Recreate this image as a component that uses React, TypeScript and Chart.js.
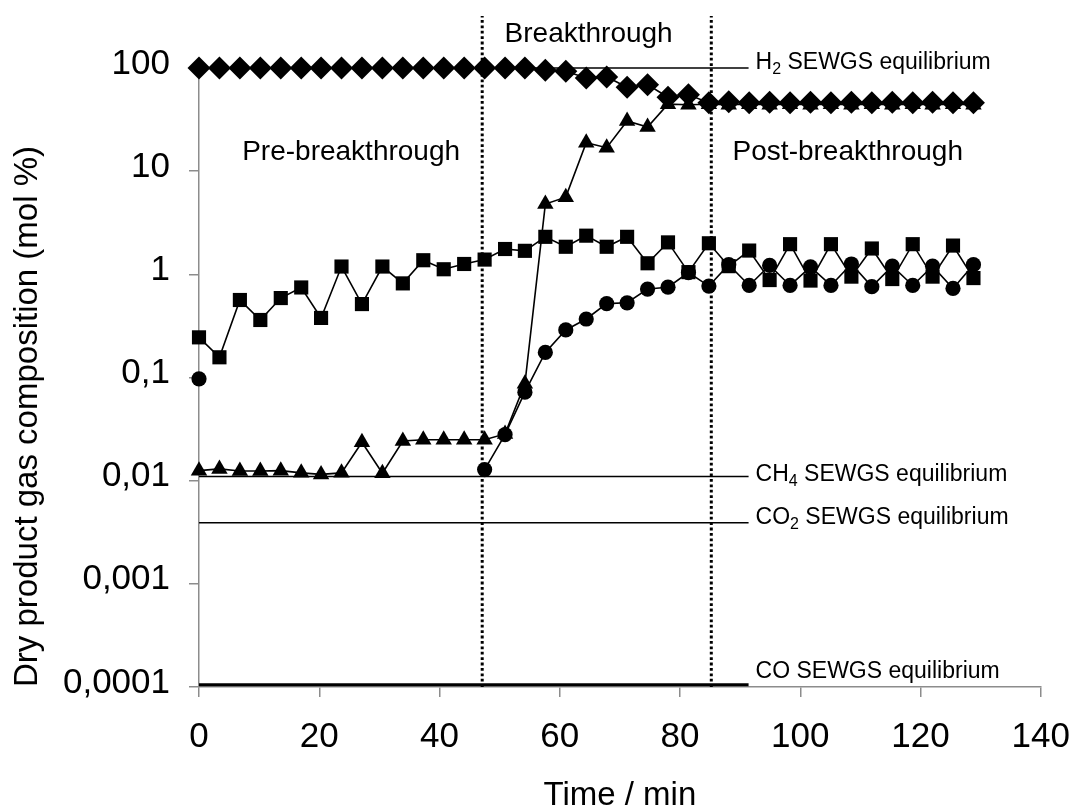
import { useEffect, useRef } from "react";
import { Chart, registerables } from "chart.js";

Chart.register(...registerables);

// ---------- data ----------
const TIME_MIN = [0, 3.4, 6.8, 10.2, 13.6, 17.0, 20.3, 23.7, 27.1, 30.5, 33.9, 37.3, 40.7, 44.1, 47.5, 50.9, 54.2, 57.6, 61.0, 64.4, 67.8, 71.2, 74.6, 78.0, 81.4, 84.8, 88.1, 91.5, 94.9, 98.3, 101.7, 105.1, 108.5, 111.9, 115.3, 118.7, 122.0, 125.4, 128.8];

const H2_PCT = [100, 100, 100, 100, 100, 100, 100, 100, 100, 100, 100, 100, 100, 100, 100, 100, 100, 95, 93, 80, 82, 65, 69, 52, 55, 46, 47, 46, 46.5, 46, 46.5, 46, 46.5, 46, 46.5, 46, 46.5, 46, 46];

const CO_PCT: (number | null)[] = [0.097, null, null, null, null, null, null, null, null, null, null, null, null, null, 0.0128, 0.028, 0.072, 0.175, 0.289, 0.369, 0.52, 0.53, 0.72, 0.75, 1.04, 0.77, 1.24, 0.78, 1.22, 0.78, 1.18, 0.78, 1.26, 0.76, 1.2, 0.78, 1.2, 0.73, 1.24];

const CO2_PCT = [0.0125, 0.013, 0.0124, 0.0124, 0.0125, 0.0119, 0.0115, 0.0119, 0.0236, 0.0118, 0.0242, 0.0249, 0.0249, 0.0249, 0.0249, 0.0284, 0.087, 4.8, 5.6, 18.9, 16.9, 30.7, 26.8, 44.6, 44, 44.5, 44, 44.5, 44, 44.5, 44, 44.5, 44, 44.5, 44, 44.5, 44, 44.5, 44];

const CH4_PCT = [0.245, 0.157, 0.564, 0.361, 0.589, 0.746, 0.378, 1.19, 0.515, 1.19, 0.817, 1.37, 1.12, 1.26, 1.39, 1.76, 1.69, 2.31, 1.85, 2.37, 1.85, 2.31, 1.28, 2.04, 1.05, 2.0, 1.2, 1.7, 0.88, 1.96, 0.87, 1.96, 0.95, 1.78, 0.9, 1.96, 0.95, 1.9, 0.92];

// SEWGS equilibrium levels (mol %), drawn from t = 0 to EQ_END_MIN
const EQ_SPECIES = ["H2", "CH4", "CO2", "CO"];
const EQ_VALUES = [100, 0.011, 0.0039, 0.000105];
const EQ_END_MIN = 91.4;

// breakthrough window limits (min)
const PHASE_LIMITS_MIN = [47.1, 85.2];
const PHASE_LINE_TOP = 320;

const X_TICKS = [0, 20, 40, 60, 80, 100, 120, 140];
const Y_TICKS = [0.0001, 0.001, 0.01, 0.1, 1, 10, 100];

const X_TITLE = "Time / min";
const Y_TITLE = "Dry product gas composition (mol %)";

// ---------- styling ----------
const FONT = '"Liberation Sans", Arial, Helvetica, sans-serif';
const AXIS = "#8c8c8c";
const INK = "#000000";

const pts = (ys: (number | null)[]) => TIME_MIN.map((t, i) => ({ x: t, y: ys[i] }));

const formatTick = (v: number) => String(v).replace(".", ",");

function drawSubText(ctx: CanvasRenderingContext2D, x: number, baseline: number, parts: [string, boolean][], size: number) {
  let cx = x;
  for (const [txt, sub] of parts) {
    ctx.font = `${sub ? Math.round(size * 0.68) : size}px ${FONT}`;
    ctx.fillText(txt, cx, baseline + (sub ? size * 0.22 : 0));
    cx += ctx.measureText(txt).width;
  }
}

const EQ_LABEL_PARTS: Record<string, [string, boolean][]> = {
  H2: [["H", false], ["2", true], [" SEWGS equilibrium", false]],
  CH4: [["CH", false], ["4", true], [" SEWGS equilibrium", false]],
  CO2: [["CO", false], ["2", true], [" SEWGS equilibrium", false]],
  CO: [["CO SEWGS equilibrium", false]],
};
const EQ_LABEL_DY: Record<string, number> = { H2: 1, CH4: 5, CO2: 1, CO: -7 };

const annotationPlugin = {
  id: "annotations",
  afterDraw(chart: any) {
    const { ctx, scales, chartArea } = chart;
    const xs = scales.x;
    const ys = scales.y;
    ctx.save();
    ctx.fillStyle = INK;
    ctx.textBaseline = "alphabetic";
    // phase labels
    ctx.font = `28px ${FONT}`;
    ctx.textAlign = "center";
    ctx.fillText("Pre-breakthrough", xs.getPixelForValue(25.3), chartArea.top + 92);
    ctx.fillText("Breakthrough", xs.getPixelForValue(64.8), chartArea.top - 26);
    ctx.fillText("Post-breakthrough", xs.getPixelForValue(107.9), chartArea.top + 92);
    // equilibrium labels
    ctx.textAlign = "left";
    EQ_SPECIES.forEach((sp, i) => {
      const px = xs.getPixelForValue(EQ_END_MIN) + 7;
      const py = ys.getPixelForValue(EQ_VALUES[i]) + EQ_LABEL_DY[sp];
      drawSubText(ctx, px, py, EQ_LABEL_PARTS[sp], 23);
    });
    ctx.restore();
  },
};

export default function App() {
  const ref = useRef<HTMLCanvasElement | null>(null);

  useEffect(() => {
    if (!ref.current) return;

    const markerBase = {
      showLine: true,
      borderColor: INK,
      backgroundColor: INK,
      borderWidth: 1.6,
      pointBackgroundColor: INK,
      pointBorderColor: INK,
      pointBorderWidth: 0,
      spanGaps: false,
      clip: false as const,
    };

    const eqSets = EQ_SPECIES.map((sp, i) => ({
      label: `${sp} SEWGS equilibrium`,
      data: [
        { x: 0, y: EQ_VALUES[i] },
        { x: EQ_END_MIN, y: EQ_VALUES[i] },
      ],
      showLine: true,
      borderColor: INK,
      borderWidth: sp === "CO" ? 3 : 1.5,
      pointRadius: 0,
      clip: false as const,
    }));

    const phaseSets = PHASE_LIMITS_MIN.map((t) => ({
      label: `limit ${t}`,
      data: [
        { x: t, y: Y_TICKS[0] },
        { x: t, y: PHASE_LINE_TOP },
      ],
      showLine: true,
      borderColor: INK,
      borderWidth: 3,
      borderDash: [2.8, 2.6],
      borderCapStyle: "butt" as const,
      pointRadius: 0,
      clip: false as const,
    }));

    const chart = new Chart(ref.current, {
      type: "scatter",
      data: {
        datasets: [
          { ...markerBase, label: "H2", data: pts(H2_PCT), pointStyle: "rectRot", pointRadius: 11.5 },
          { ...markerBase, label: "CO", data: pts(CO_PCT), pointStyle: "circle", pointRadius: 7.6 },
          { ...markerBase, label: "CO2", data: pts(CO2_PCT), pointStyle: "triangle", pointRadius: 9.5 },
          { ...markerBase, label: "CH4", data: pts(CH4_PCT), pointStyle: "rect", pointRadius: 10 },
          ...eqSets,
          ...phaseSets,
        ] as any,
      },
      options: {
        animation: false,
        responsive: false,
        events: [],
        layout: { padding: { top: 68, right: 43, left: 0, bottom: 0 } },
        plugins: {
          legend: { display: false },
          tooltip: { enabled: false },
        },
        scales: {
          x: {
            type: "linear",
            min: 0,
            max: 140,
            afterBuildTicks: (s: any) => {
              s.ticks = X_TICKS.map((v) => ({ value: v }));
            },
            afterFit: (s: any) => {
              s.height = 125;
            },
            grid: {
              display: true,
              drawOnChartArea: false,
              drawTicks: true,
              tickLength: 10,
              color: AXIS,
              tickColor: AXIS,
              lineWidth: 1.5,
            },
            border: { display: true, color: AXIS, width: 1.5 },
            ticks: {
              color: INK,
              font: { family: FONT, size: 35 },
              padding: 19,
              maxRotation: 0,
              autoSkip: false,
              callback: (v: any) => String(v),
            },
            title: {
              display: true,
              text: X_TITLE,
              color: INK,
              font: { family: FONT, size: 33, lineHeight: 1 },
              padding: { top: 0, bottom: 0 },
            },
          },
          y: {
            type: "logarithmic",
            min: Y_TICKS[0],
            max: Y_TICKS[Y_TICKS.length - 1],
            afterBuildTicks: (s: any) => {
              s.ticks = Y_TICKS.map((v) => ({ value: v }));
            },
            afterFit: (s: any) => {
              s.width = 199;
            },
            grid: {
              display: true,
              drawOnChartArea: false,
              drawTicks: true,
              tickLength: 10,
              color: AXIS,
              tickColor: AXIS,
              lineWidth: 1.5,
            },
            border: { display: true, color: AXIS, width: 1.5 },
            ticks: {
              color: INK,
              font: { family: FONT, size: 35 },
              padding: 19,
              labelOffset: -4,
              autoSkip: false,
              callback: (v: any) => formatTick(Number(v)),
            },
            title: {
              display: true,
              text: Y_TITLE,
              align: "start",
              color: INK,
              font: { family: FONT, size: 33, lineHeight: 1 },
              padding: { top: 11, bottom: 0 },
            },
          },
        },
      } as any,
      plugins: [annotationPlugin],
    });

    return () => chart.destroy();
  }, []);

  return (
    <div style={{ position: "fixed", left: 0, top: 0, width: 1089, height: 812, background: "#fff" }}>
      <canvas ref={ref} width={1089} height={812} style={{ display: "block" }} />
    </div>
  );
}
